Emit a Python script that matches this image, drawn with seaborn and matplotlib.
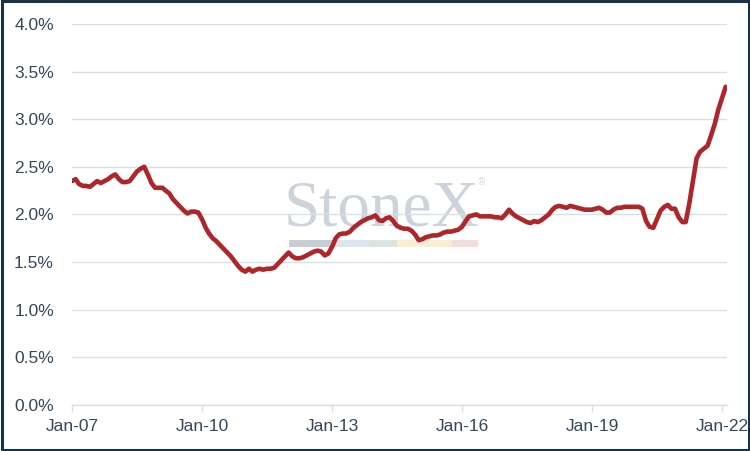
import numpy as np
import pandas as pd
import matplotlib
matplotlib.use("Agg")
import matplotlib.pyplot as plt
import matplotlib.dates as mdates
from matplotlib.patches import Rectangle
import seaborn as sns

# monthly values (%), Jan-2007 .. Feb-2022
vals_2007 = [2.35, 2.37, 2.32, 2.30, 2.30, 2.29, 2.32, 2.35, 2.33, 2.35, 2.37, 2.40]
vals_2008 = [2.42, 2.37, 2.34, 2.34, 2.35, 2.40, 2.45, 2.48, 2.50, 2.42, 2.33, 2.28]
vals_2009 = [2.28, 2.28, 2.25, 2.22, 2.16, 2.12, 2.08, 2.04, 2.01, 2.03, 2.03, 2.02]
vals_2010 = [1.95, 1.86, 1.80, 1.75, 1.72, 1.68, 1.64, 1.60, 1.56, 1.51, 1.46, 1.42]
vals_2011 = [1.40, 1.43, 1.40, 1.42, 1.43, 1.42, 1.43, 1.43, 1.44, 1.48, 1.52, 1.56]
vals_2012 = [1.60, 1.56, 1.54, 1.54, 1.55, 1.57, 1.59, 1.61, 1.62, 1.61, 1.57, 1.59]
vals_2013 = [1.66, 1.75, 1.79, 1.80, 1.80, 1.82, 1.86, 1.89, 1.92, 1.94, 1.96, 1.97]
vals_2014 = [1.99, 1.94, 1.93, 1.96, 1.97, 1.93, 1.88, 1.86, 1.85, 1.85, 1.83, 1.79]
vals_2015 = [1.73, 1.74, 1.76, 1.77, 1.78, 1.78, 1.79, 1.81, 1.82, 1.82, 1.83, 1.84]
vals_2016 = [1.87, 1.93, 1.98, 1.99, 2.00, 1.98, 1.98, 1.98, 1.98, 1.97, 1.97, 1.96]
vals_2017 = [2.00, 2.05, 2.01, 1.98, 1.96, 1.94, 1.92, 1.91, 1.93, 1.92, 1.94, 1.97]
vals_2018 = [2.00, 2.05, 2.08, 2.09, 2.08, 2.07, 2.09, 2.08, 2.07, 2.06, 2.05, 2.05]
vals_2019 = [2.05, 2.06, 2.07, 2.05, 2.02, 2.02, 2.05, 2.07, 2.07, 2.08, 2.08, 2.08]
vals_2020 = [2.08, 2.08, 2.06, 1.93, 1.87, 1.86, 1.95, 2.04, 2.08, 2.10, 2.06, 2.06]
vals_2021 = [1.97, 1.92, 1.92, 2.12, 2.35, 2.59, 2.66, 2.69, 2.72, 2.83, 2.95, 3.10]
vals_2022 = [3.22, 3.34]

values = (vals_2007 + vals_2008 + vals_2009 + vals_2010 + vals_2011 + vals_2012
          + vals_2013 + vals_2014 + vals_2015 + vals_2016 + vals_2017 + vals_2018
          + vals_2019 + vals_2020 + vals_2021 + vals_2022)
dates = pd.date_range("2007-01-01", periods=len(values), freq="MS")
df = pd.DataFrame({"date": dates, "value": values})

tick_years = [2007, 2010, 2013, 2016, 2019, 2022]
y_ticks = [0.0, 0.5, 1.0, 1.5, 2.0, 2.5, 3.0, 3.5, 4.0]

sns.set_style("white")
plt.rcParams["font.family"] = ["Liberation Sans", "DejaVu Sans"]

text_col = "#34475c"
grid_col = "#d8e0ea"

fig = plt.figure(figsize=(7.5, 4.51), dpi=100)
ax = fig.add_axes([0.096, 0.102, 0.873, 0.845])

# watermark
ax.text(0.472, 0.47, "StoneX", transform=ax.transAxes, fontsize=47,
        family="Liberation Serif", color="#ccd3db", ha="center", va="baseline",
        zorder=0)
ax.text(0.625, 0.585, "\u00ae", transform=ax.transAxes, fontsize=7,
        color="#d5dbe2", ha="center", va="center", zorder=0)
wm_edges = [0.331, 0.398, 0.455, 0.496, 0.580, 0.620]
wm_cols = ["#c9ced4", "#dde6ef", "#dae5dd", "#f7eed3", "#f3dcdd"]
for i, c in enumerate(wm_cols):
    ax.add_patch(Rectangle((wm_edges[i], 0.415), wm_edges[i + 1] - wm_edges[i], 0.018,
                           transform=ax.transAxes, color=c, lw=0, zorder=0))

sns.lineplot(data=df, x="date", y="value", ax=ax, color="#ae252a",
             linewidth=3.3, zorder=3)

ax.set_ylim(0, 4)
ax.set_xlim(pd.Timestamp("2007-01-01"), pd.Timestamp("2022-02-10"))
ax.set_yticks(y_ticks)
ax.set_yticklabels(["{:.1f}%".format(v) for v in y_ticks])
ax.set_xticks([pd.Timestamp(f"{y}-01-01") for y in tick_years])
ax.xaxis.set_major_formatter(mdates.DateFormatter("%b-%y"))
ax.set_xlabel("")
ax.set_ylabel("")

ax.grid(axis="y", color=grid_col, linewidth=1)
ax.grid(axis="x", visible=False)
for s in ["top", "right", "left"]:
    ax.spines[s].set_visible(False)
ax.spines["bottom"].set_color(grid_col)
ax.spines["bottom"].set_linewidth(1)

ax.tick_params(axis="y", length=0, labelsize=12.5, labelcolor=text_col, pad=13)
ax.tick_params(axis="x", length=5, width=1, color=grid_col, labelsize=12.5,
               labelcolor=text_col, pad=5, direction="out", bottom=True)

# frame around the whole picture
fig.patches.append(Rectangle((0.002, 0.003), 0.996, 0.994, transform=fig.transFigure,
                             fill=False, edgecolor="#1d3146", linewidth=2.2))

fig.savefig("out.png", dpi=100)
